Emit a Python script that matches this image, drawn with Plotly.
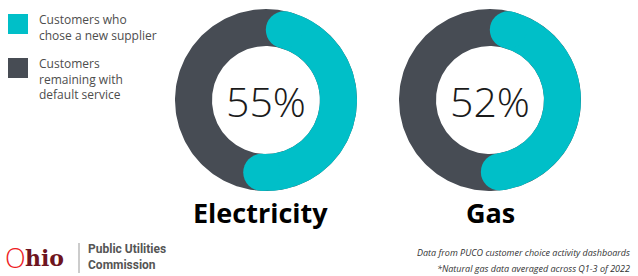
import math
import numpy as np
import plotly.graph_objects as go

# ---------------- data ----------------
categories = ["Electricity", "Gas"]
new_supplier_pct = [55, 52]
default_pct = [45, 48]
legend_labels = ["Customers who<br>chose a new supplier",
                 "Customers<br>remaining with<br>default service"]
source_notes = ["Data from PUCO customer choice activity dashboards",
                "*Natural gas data averaged across Q1-3 of 2022"]

# ---------------- style ----------------
W, H = 638, 276
TEAL = "#00bfc8"
GRAY = "#474c54"
centers = [(266, 100), (490, 100)]
R_OUT, R_IN = 91, 54
RC = (R_OUT + R_IN) / 2
HW = (R_OUT - R_IN) / 2
CAP_DEG = math.degrees(HW / RC)


def pt(cx, cy, r, deg):
    a = math.radians(deg)
    return cx + r * math.sin(a), cy - r * math.cos(a)


def arc(cx, cy, r, a0, a1, n=120):
    angs = np.linspace(a0, a1, n)
    xs, ys = zip(*[pt(cx, cy, r, a) for a in angs])
    return list(xs), list(ys)


fig = go.Figure()

for (cx, cy), new, dflt, cat in zip(centers, new_supplier_pct, default_pct, categories):
    total = new + dflt
    # gray full ring
    ox, oy = arc(cx, cy, R_OUT, 0, 360, 240)
    ix, iy = arc(cx, cy, R_IN, 360, 0, 240)
    fig.add_trace(go.Scatter(x=ox + ix, y=oy + iy, fill="toself", fillcolor=GRAY,
                             mode="lines", line=dict(width=0), hoverinfo="skip",
                             showlegend=False))
    # teal arc with rounded caps
    span = new / total * 360
    a0, a1 = CAP_DEG, span - CAP_DEG
    ox, oy = arc(cx, cy, R_OUT, a0, a1)
    ix, iy = arc(cx, cy, R_IN, a1, a0)
    fig.add_trace(go.Scatter(x=ox + ix, y=oy + iy, fill="toself", fillcolor=TEAL,
                             mode="lines", line=dict(width=0), hoverinfo="skip",
                             showlegend=False))
    caps = [pt(cx, cy, RC, a0), pt(cx, cy, RC, a1)]
    fig.add_trace(go.Scatter(x=[c[0] for c in caps], y=[c[1] for c in caps],
                             mode="markers", hoverinfo="skip", showlegend=False,
                             marker=dict(size=2 * HW, color=TEAL, line=dict(width=0))))
    # center value
    fig.add_annotation(x=cx, y=cy + 1, text=f"{new}%", showarrow=False,
                       xanchor="center", yanchor="middle",
                       font=dict(family="Open Sans", size=41, color="#1a1a1a", weight=300))
    # category label
    fig.add_annotation(x=cx - 6 if cat == "Electricity" else cx, y=212, text=f"<b>{cat}</b>",
                       showarrow=False, xanchor="center", yanchor="middle",
                       font=dict(family="Open Sans", size=27, color="#000000", weight=800))

# legend
leg_tops = [14, 58]
for top, lab, col in zip(leg_tops, legend_labels, [TEAL, GRAY]):
    fig.add_shape(type="rect", x0=8, x1=28, y0=top, y1=top + 20,
                  fillcolor=col, line=dict(width=0), xref="x", yref="y")
    fig.add_annotation(x=37, y=top - 5, text=lab, showarrow=False, align="left",
                       xanchor="left", yanchor="top",
                       font=dict(family="Open Sans", size=12, color="#4d4d4d"))

# footer logo
fig.add_annotation(x=3, y=257, text="O", showarrow=False,
                   xanchor="left", yanchor="middle",
                   font=dict(family="Open Sans", size=27, color="#ee1c25", weight=300))
fig.add_annotation(x=23, y=258, text="<b>hio</b>", showarrow=False,
                   xanchor="left", yanchor="middle",
                   font=dict(family="DejaVu Serif", size=22, color="#6e1420"))
fig.add_shape(type="line", x0=79, x1=79, y0=243, y1=273,
              line=dict(color="#999999", width=1), xref="x", yref="y")
fig.add_annotation(x=86, y=257, text="<b>Public Utilities<br>Commission</b>", showarrow=False,
                   align="left", xanchor="left", yanchor="middle",
                   font=dict(family="Roboto", size=12, color="#555555"))

# source notes
for yy, note in zip([252, 268], source_notes):
    fig.add_annotation(x=632, y=yy, text=f"<i>{note}</i>", showarrow=False,
                       xanchor="right", yanchor="middle",
                       font=dict(family="Open Sans", size=9, color="#333333"))

fig.update_layout(
    width=W, height=H, margin=dict(l=0, r=0, t=0, b=0),
    paper_bgcolor="white", plot_bgcolor="white",
    xaxis=dict(range=[0, W], visible=False, fixedrange=True),
    yaxis=dict(range=[H, 0], visible=False, fixedrange=True),
)

fig.write_html("out.html", config={"displayModeBar": False},
               post_script="document.body.style.margin='0';document.body.style.overflow='hidden';")
